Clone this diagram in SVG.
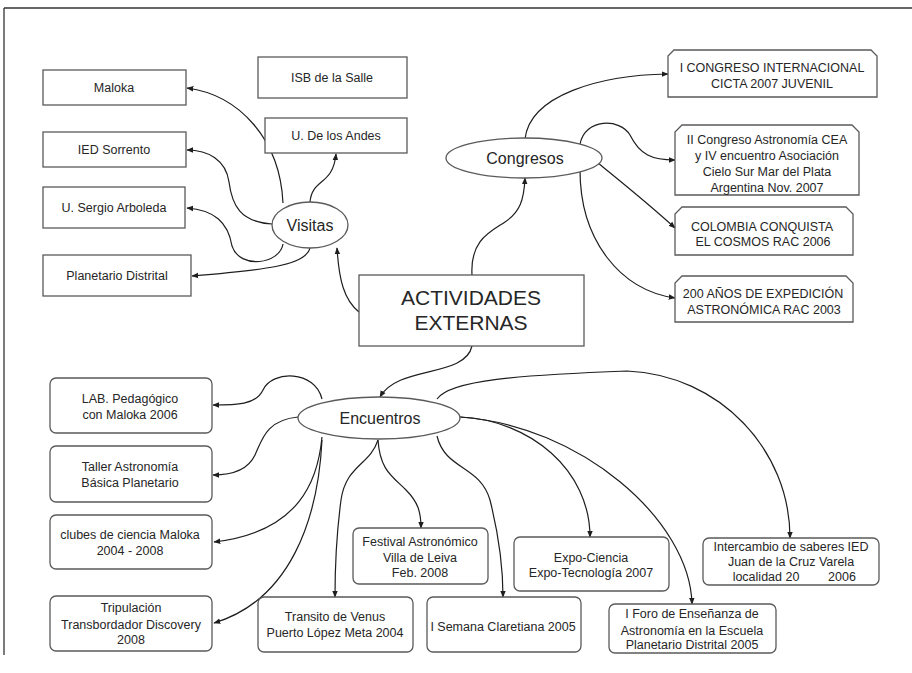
<svg xmlns="http://www.w3.org/2000/svg" width="912" height="673" viewBox="0 0 912 673">
<style>
text{font-family:"Liberation Sans",Arial,sans-serif;fill:#262626;text-anchor:middle}
.t{font-size:12.5px}
.e{font-size:16px}
.big{font-size:21px}
.box{fill:#fff;stroke:#5a5a5a;stroke-width:1.3}
.c{fill:none;stroke:#1e1e1e;stroke-width:1.2;marker-end:url(#ah)}
</style>
<defs>
<marker id="ah" viewBox="0 0 10 10" refX="9" refY="5" markerWidth="7" markerHeight="7" orient="auto" markerUnits="userSpaceOnUse">
<path d="M0,1 L10,5 L0,9 Z" fill="#1e1e1e"/>
</marker>
</defs>
<rect width="912" height="673" fill="#fff"/>
<g id="frame" stroke="#333" stroke-width="1.3" fill="none">
<path d="M4,8 L912,8"/>
<path d="M4,8 L4,655"/>
</g>

<g id="connectors">
<!-- Visitas -->
<path class="c" d="M283,203 C280,140 240,95 187,88"/>
<path class="c" d="M272,224 C240,222 232,205 229,182 C226,160 208,150 187,150"/>
<path class="c" d="M283,244 C280,264 240,270 232,246 C228,222 214,210 187,208"/>
<path class="c" d="M310,248 C306,266 262,270 192,276"/>
<path class="c" d="M310,202 C312,178 333,186 336,154"/>
<path class="c" d="M359,312 C344,300 339,280 337,248"/>
<!-- Congresos -->
<path class="c" d="M472,275 C470,240 490,232 505,222 C520,212 524,200 525,178"/>
<path class="c" d="M525,139 C530,95 600,75 668,74"/>
<path class="c" d="M580,144 C585,118 620,118 630,135 C640,155 652,160 675,160"/>
<path class="c" d="M598,163 C625,185 650,205 675,228"/>
<path class="c" d="M580,170 C580,240 620,290 675,298"/>
<!-- Encuentros -->
<path class="c" d="M472,346 C465,378 398,365 380,397"/>
<path class="c" d="M322,399 C315,370 272,370 263,390 C256,405 236,405 213,405"/>
<path class="c" d="M298,417 C266,420 262,440 255,455 C248,470 232,475 213,475"/>
<path class="c" d="M322,437 C318,480 300,532 214,542"/>
<path class="c" d="M322,440 C318,520 290,600 214,623"/>
<path class="c" d="M378,440 C370,465 346,465 341,500 C337,530 335,570 335,597"/>
<path class="c" d="M378,440 C380,470 392,476 406,490 C418,502 421,512 421,528"/>
<path class="c" d="M437,436 C445,470 480,465 490,500 C500,540 503,570 503,597"/>
<path class="c" d="M460,417 C530,420 590,470 590,537"/>
<path class="c" d="M460,417 C580,425 690,520 692,604"/>
<path class="c" d="M437,399 C450,380 520,375 627,371 C720,375 790,450 790,538"/>
</g>

<g id="actividades">
<rect class="box" x="359" y="275" width="225" height="71"/>
<text class="big" x="471" y="305">ACTIVIDADES</text>
<text class="big" x="471" y="330">EXTERNAS</text>
</g>

<g id="visitas">
<ellipse class="box" cx="310" cy="225" rx="38" ry="23"/>
<text class="e" x="310" y="231">Visitas</text>
</g>
<g id="congresos">
<ellipse class="box" cx="524" cy="158" rx="78" ry="20"/>
<text class="e" x="525" y="164">Congresos</text>
</g>
<g id="encuentros">
<ellipse class="box" cx="379" cy="418" rx="81" ry="21"/>
<text class="e" x="380" y="424">Encuentros</text>
</g>

<g id="maloka"><rect class="box" x="43" y="70" width="143" height="35"/><text class="t" x="114" y="92">Maloka</text></g>
<g id="sorrento"><rect class="box" x="43" y="132" width="143" height="35"/><text class="t" x="114" y="154">IED Sorrento</text></g>
<g id="sergio"><rect class="box" x="43" y="187" width="142" height="41"/><text class="t" x="114" y="212">U. Sergio Arboleda</text></g>
<g id="planetario"><rect class="box" x="43" y="255" width="148" height="41"/><text class="t" x="117" y="280">Planetario Distrital</text></g>
<g id="isb"><rect class="box" x="258" y="57" width="149" height="41"/><text class="t" x="332" y="82">ISB de la Salle</text></g>
<g id="andes"><rect class="box" x="265" y="118" width="142" height="35"/><text class="t" x="336" y="140">U. De los Andes</text></g>

<g id="cicta"><path class="box" d="M668,97 L668,56 L674,50 L871,50 L877,56 L877,97 Z"/>
<text class="t" x="772" y="72">I CONGRESO INTERNACIONAL</text><text class="t" x="772" y="88">CICTA 2007 JUVENIL</text></g>
<g id="cea"><path class="box" d="M675,195 L675,132 L682,125 L852,125 L859,132 L859,195 Z"/>
<text class="t" x="767" y="144">II Congreso Astronomía CEA</text><text class="t" x="767" y="160">y IV encuentro Asociación</text><text class="t" x="767" y="176">Cielo Sur Mar del Plata</text><text class="t" x="767" y="192">Argentina Nov. 2007</text></g>
<g id="colombia"><path class="box" d="M675,255 L675,214 L682,207 L846,207 L853,214 L853,255 Z"/>
<text class="t" x="762" y="231">COLOMBIA CONQUISTA</text><text class="t" x="763" y="246">EL COSMOS RAC 2006</text></g>
<g id="expedicion"><path class="box" d="M675,322 L675,283 L682,276 L846,276 L853,283 L853,322 Z"/>
<text class="t" x="763" y="298">200 AÑOS DE EXPEDICIÓN</text><text class="t" x="764" y="314">ASTRONÓMICA RAC 2003</text></g>

<g id="lab"><rect class="box" x="50" y="378" width="162" height="55" rx="6"/>
<text class="t" x="130" y="403">LAB. Pedagógico</text><text class="t" x="130" y="419">con Maloka 2006</text></g>
<g id="taller"><rect class="box" x="50" y="446" width="162" height="56" rx="6"/>
<text class="t" x="130" y="471">Taller Astronomía</text><text class="t" x="130" y="487">Básica Planetario</text></g>
<g id="clubes"><rect class="box" x="50" y="515" width="162" height="54" rx="6"/>
<text class="t" x="130" y="539">clubes de ciencia Maloka</text><text class="t" x="130" y="555">2004 - 2008</text></g>
<g id="tripulacion"><rect class="box" x="50" y="596" width="162" height="55" rx="6"/>
<text class="t" x="131" y="612">Tripulación</text><text class="t" x="131" y="629">Transbordador Discovery</text><text class="t" x="131" y="644">2008</text></g>
<g id="venus"><rect class="box" x="258" y="597" width="155" height="55" rx="6"/>
<text class="t" x="335" y="621">Transito de Venus</text><text class="t" x="335" y="637">Puerto López Meta 2004</text></g>
<g id="semana"><rect class="box" x="427" y="597" width="154" height="55" rx="6"/>
<text class="t" x="503" y="631">I Semana Claretiana 2005</text></g>
<g id="festival"><rect class="box" x="353" y="528" width="135" height="56" rx="6"/>
<text class="t" x="420" y="546">Festival Astronómico</text><text class="t" x="420" y="562">Villa de Leiva</text><text class="t" x="420" y="577">Feb. 2008</text></g>
<g id="expo"><rect class="box" x="514" y="537" width="155" height="54" rx="6"/>
<text class="t" x="591" y="562">Expo-Ciencia</text><text class="t" x="591" y="577">Expo-Tecnología 2007</text></g>
<g id="foro"><rect class="box" x="609" y="604" width="167" height="49" rx="6"/>
<text class="t" x="692" y="618">I Foro de Enseñanza de</text><text class="t" x="692" y="635">Astronomía en la Escuela</text><text class="t" x="692" y="649">Planetario Distrital 2005</text></g>
<g id="intercambio"><rect class="box" x="703" y="538" width="176" height="47" rx="6"/>
<text class="t" x="791" y="551">Intercambio de saberes IED</text><text class="t" x="791" y="566">Juan de la Cruz Varela</text><text class="t"><tspan x="766" y="581">localidad 20</tspan><tspan x="842" y="581">2006</tspan></text></g>
</svg>
